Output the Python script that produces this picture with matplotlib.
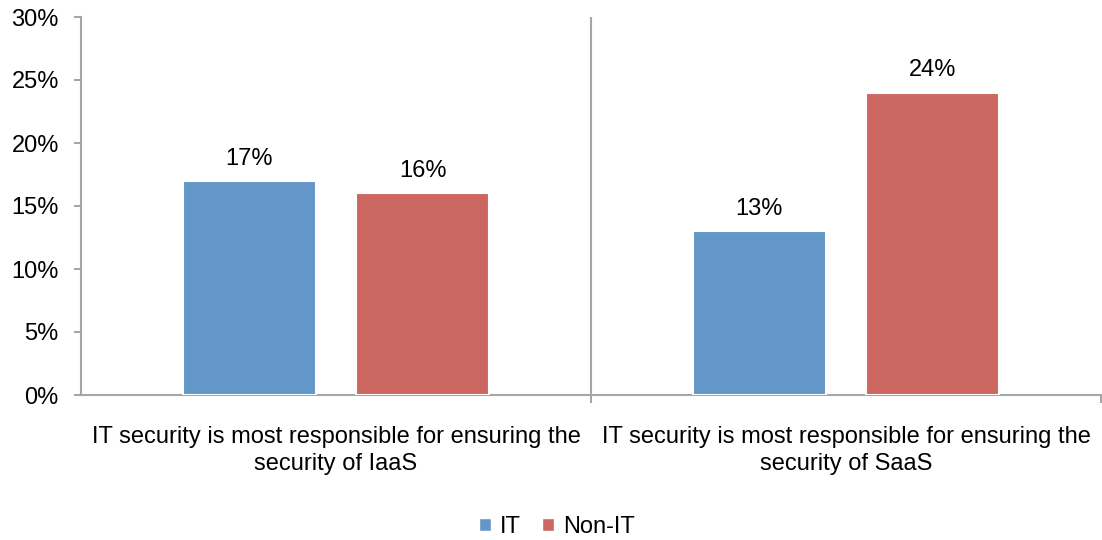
import matplotlib
matplotlib.use("Agg")
import matplotlib.pyplot as plt
from matplotlib.patches import Patch

categories = ["IT security is most responsible for ensuring the\nsecurity of IaaS",
              "IT security is most responsible for ensuring the\nsecurity of SaaS"]
series_names = ["IT", "Non-IT"]
it_values = [17, 13]
nonit_values = [16, 24]
yticks = [0, 5, 10, 15, 20, 25, 30]

plt.rcParams['font.family'] = ['Liberation Sans', 'DejaVu Sans']

colors = ["#6396C9", "#CC6660"]
gray = "#A6A6A6"
FS = 17

fig = plt.figure(figsize=(11.02, 5.40), dpi=100)
ax = fig.add_axes([81/1102, 1-395/540, (1101-81)/1102, (395-17)/540])

x = list(range(len(categories)))
w = 0.26
off = 0.17
b1 = ax.bar([i - off for i in x], it_values, w, color=colors[0], edgecolor="white", linewidth=1.5, zorder=3)
b2 = ax.bar([i + off for i in x], nonit_values, w, color=colors[1], edgecolor="white", linewidth=1.5, zorder=3)

for bars, vals in ((b1, it_values), (b2, nonit_values)):
    for rect, v in zip(bars, vals):
        ax.annotate(f"{v}%", (rect.get_x() + rect.get_width()/2, v), xytext=(0, 8),
                    textcoords="offset points", ha="center", va="bottom", fontsize=FS, color="black")

ax.set_xlim(-0.5, len(categories) - 0.5)
ax.set_ylim(0, 30)
ax.set_yticks(yticks)
ax.set_yticklabels([f"{t}%" for t in yticks], fontsize=FS)

ax.set_xticks([i + 0.5 for i in range(len(categories))])
ax.set_xticklabels([])
ax.set_xticks(x, minor=True)
ax.set_xticklabels(categories, minor=True, fontsize=FS, linespacing=1.3)
ax.tick_params(axis="x", which="minor", length=0, pad=22)
ax.tick_params(axis="x", which="major", length=6, width=1.5, color=gray)
ax.tick_params(axis="y", length=5, width=1.5, color=gray, pad=11)

for i in range(len(categories) - 1):
    ax.axvline(i + 0.5, color=gray, linewidth=1.5, zorder=1)

for s in ["top", "right"]:
    ax.spines[s].set_visible(False)
for s in ["left", "bottom"]:
    ax.spines[s].set_color(gray)
    ax.spines[s].set_linewidth(1.5)

handles = [Patch(facecolor=c, edgecolor="white") for c in colors]
fig.legend(handles, series_names, loc="center", bbox_to_anchor=(557/1102, 1-527/540), ncol=2,
           frameon=False, fontsize=FS, handlelength=0.5, handleheight=0.5, handletextpad=0.4,
           columnspacing=0.9)

fig.savefig("out.png", dpi=100)
